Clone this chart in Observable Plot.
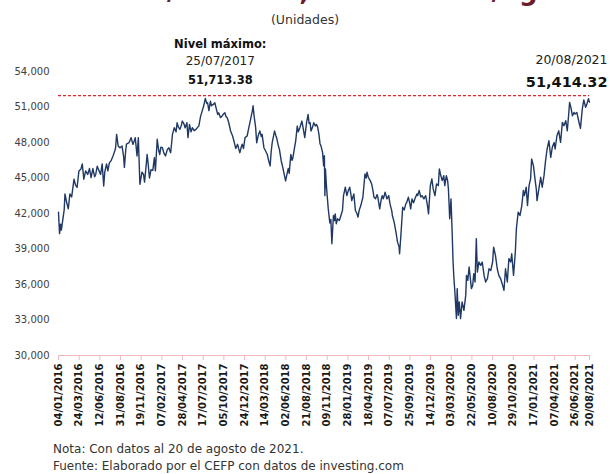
<!DOCTYPE html>
<html><head><meta charset="utf-8">
<script src="https://cdn.jsdelivr.net/npm/d3@7"></script>
<script src="https://cdn.jsdelivr.net/npm/@observablehq/plot@0.6"></script>
<style>
html,body{margin:0;padding:0;background:#fff;}
#wrap{position:relative;width:610px;height:474px;overflow:hidden;font-family:"DejaVu Sans",sans-serif;}
#title{position:absolute;left:0;top:-25px;width:610px;text-align:center;font-weight:bold;font-size:26px;line-height:32px;color:#6b1d2a;white-space:nowrap;}
#sub{position:absolute;left:0;top:12px;width:610px;text-align:center;font-size:12.5px;line-height:16px;color:#333;}
#chart{position:absolute;left:0;top:30px;}
#foot{position:absolute;left:53px;top:441px;font-size:12px;line-height:17px;color:#333;white-space:nowrap;}
</style></head>
<body>
<div id="wrap">
  <div id="title">Índice S&amp;P/BMV IPC, 2016 - 2021/agosto</div>
  <div id="sub">(Unidades)</div>
  <div id="chart"></div>
  <div id="foot">Nota: Con datos al 20 de agosto de 2021.<br>Fuente: Elaborado por el CEFP con datos de investing.com</div>
</div>
<script>
// Daily close of the index, by year
const dates2016 = ["2016-01-04","2016-01-08","2016-01-12","2016-01-15","2016-01-22","2016-01-26","2016-01-29","2016-02-05","2016-02-11","2016-02-17","2016-02-24","2016-03-04","2016-03-10","2016-03-16","2016-03-23","2016-03-31","2016-04-05","2016-04-11","2016-04-18","2016-04-26","2016-05-03","2016-05-09","2016-05-16","2016-05-23","2016-05-27","2016-06-02","2016-06-09","2016-06-15","2016-06-21","2016-06-27","2016-07-01","2016-07-08","2016-07-13","2016-07-19","2016-07-25","2016-08-02","2016-08-09","2016-08-12","2016-08-16","2016-08-22","2016-08-29","2016-09-06","2016-09-12","2016-09-15","2016-09-20","2016-09-23","2016-10-03","2016-10-11","2016-10-18","2016-10-24","2016-10-27","2016-11-03","2016-11-08","2016-11-14","2016-11-22","2016-11-28","2016-12-02","2016-12-08","2016-12-12","2016-12-16","2016-12-21","2016-12-27"];
const values2016 = [42100,40300,41100,40600,41700,42300,43650,42900,42400,43650,43400,44900,44400,44200,45600,45770,46190,44900,45600,45300,45800,45030,45800,45100,45300,46000,45600,45300,46190,44330,45500,46190,45600,46300,46440,46860,47300,47560,48690,47700,47560,47700,46800,45900,47300,47870,47980,48410,47840,48200,48410,46860,48410,44470,45500,45300,44650,46000,46990,46200,45000,45700];

const dates2017 = ["2017-01-03","2017-01-09","2017-01-13","2017-01-20","2017-01-26","2017-01-30","2017-02-03","2017-02-09","2017-02-15","2017-02-21","2017-02-28","2017-03-06","2017-03-13","2017-03-17","2017-03-20","2017-03-27","2017-04-03","2017-04-07","2017-04-12","2017-04-18","2017-04-24","2017-04-27","2017-05-03","2017-05-08","2017-05-15","2017-05-19","2017-05-25","2017-05-31","2017-06-05","2017-06-12","2017-06-19","2017-06-26","2017-06-30","2017-07-07","2017-07-13","2017-07-19","2017-07-25","2017-07-31","2017-08-03","2017-08-08","2017-08-14","2017-08-18","2017-08-25","2017-08-31","2017-09-05","2017-09-11","2017-09-15","2017-09-22","2017-09-28","2017-10-03","2017-10-09","2017-10-13","2017-10-18","2017-10-24","2017-10-31","2017-11-07","2017-11-13","2017-11-20","2017-11-27","2017-12-01","2017-12-06","2017-12-11","2017-12-15","2017-12-20","2017-12-26"];
const values2017 = [45650,46720,45600,48270,47300,46990,47600,47560,47100,46860,47400,47560,47130,48000,48690,49250,48900,49670,49300,49110,49500,49810,49600,49250,49670,48410,49530,48900,49250,49000,49110,49300,49390,50230,50650,51100,51713.38,51300,51360,50700,51500,51100,51220,51360,50900,50370,50510,50100,50230,50400,50510,50200,50090,49670,48970,48600,48130,47500,47850,47500,47140,47600,47850,47500,48410];

const dates2018 = ["2018-01-03","2018-01-09","2018-01-15","2018-01-23","2018-01-26","2018-01-30","2018-02-05","2018-02-09","2018-02-15","2018-02-21","2018-02-27","2018-03-02","2018-03-09","2018-03-15","2018-03-22","2018-03-27","2018-04-02","2018-04-06","2018-04-10","2018-04-19","2018-04-24","2018-04-27","2018-05-03","2018-05-08","2018-05-15","2018-05-21","2018-05-25","2018-06-01","2018-06-06","2018-06-11","2018-06-15","2018-06-21","2018-06-26","2018-06-29","2018-07-05","2018-07-10","2018-07-16","2018-07-20","2018-07-26","2018-08-03","2018-08-08","2018-08-14","2018-08-21","2018-08-27","2018-08-31","2018-09-04","2018-09-07","2018-09-13","2018-09-18","2018-09-24","2018-09-28","2018-10-03","2018-10-08","2018-10-12","2018-10-16","2018-10-22","2018-10-26","2018-10-29","2018-10-31","2018-11-02","2018-11-07","2018-11-13","2018-11-19","2018-11-23","2018-11-27","2018-12-03","2018-12-07","2018-12-10","2018-12-14","2018-12-19","2018-12-26"];
const values2018 = [48550,49200,49810,50650,51100,50230,49250,47980,48600,48970,48500,48690,47560,47300,46990,46500,46020,47200,47980,48970,48600,48410,47800,47420,46440,45900,45450,44750,45300,45800,45400,46990,46500,46700,47500,48130,49390,48900,49250,49810,49200,48410,49670,50370,49600,49670,48970,49300,49670,49400,49530,49300,48690,47900,47700,47170,46040,46880,43510,45770,44000,42390,41200,41500,39440,41830,41400,41970,41130,41550,41410];

const dates2019 = ["2019-01-07","2019-01-11","2019-01-18","2019-01-24","2019-01-29","2019-02-04","2019-02-08","2019-02-12","2019-02-20","2019-02-26","2019-03-04","2019-03-08","2019-03-13","2019-03-19","2019-03-27","2019-04-04","2019-04-09","2019-04-12","2019-04-17","2019-04-24","2019-04-30","2019-05-06","2019-05-09","2019-05-15","2019-05-21","2019-05-24","2019-05-31","2019-06-06","2019-06-10","2019-06-14","2019-06-21","2019-06-28","2019-07-05","2019-07-10","2019-07-17","2019-07-19","2019-07-26","2019-08-02","2019-08-08","2019-08-14","2019-08-16","2019-08-21","2019-08-28","2019-09-03","2019-09-09","2019-09-13","2019-09-19","2019-09-24","2019-09-28","2019-10-03","2019-10-09","2019-10-14","2019-10-22","2019-10-25","2019-10-31","2019-11-06","2019-11-11","2019-11-18","2019-11-25","2019-12-02","2019-12-06","2019-12-13","2019-12-19","2019-12-24","2019-12-31"];
const values2019 = [42250,43510,44220,43510,43900,44220,43700,43090,43650,42250,42000,41690,42300,42670,43370,45340,45000,45490,45060,44800,44500,43800,43370,43240,43600,43370,42390,43200,43510,43240,43800,43240,43510,42810,42200,41830,41270,40430,39580,39200,38600,40140,42530,42300,42810,42950,43370,42900,42390,43230,42900,43230,43650,43510,43940,43400,43510,43240,43510,42670,41970,44360,44920,44080,43510];

const dates2020 = ["2020-01-06","2020-01-13","2020-01-17","2020-01-21","2020-01-28","2020-02-03","2020-02-07","2020-02-13","2020-02-18","2020-02-21","2020-02-26","2020-03-02","2020-03-06","2020-03-10","2020-03-13","2020-03-17","2020-03-23","2020-03-26","2020-03-30","2020-04-03","2020-04-08","2020-04-14","2020-04-21","2020-04-28","2020-05-01","2020-05-06","2020-05-11","2020-05-14","2020-05-20","2020-05-25","2020-05-29","2020-06-03","2020-06-08","2020-06-12","2020-06-18","2020-06-25","2020-07-01","2020-07-08","2020-07-14","2020-07-21","2020-07-27","2020-08-03","2020-08-10","2020-08-14","2020-08-21","2020-08-28","2020-09-03","2020-09-10","2020-09-16","2020-09-23","2020-09-29","2020-10-06","2020-10-12","2020-10-19","2020-10-23","2020-10-30","2020-11-06","2020-11-10","2020-11-17","2020-11-24","2020-12-01","2020-12-07","2020-12-11","2020-12-18","2020-12-23","2020-12-29"];
const values2020 = [44500,44360,45770,45340,44780,45200,44360,45200,44780,44080,41550,43240,40710,37900,36630,35370,33120,35650,33400,34530,33120,34530,33820,35080,36770,36350,37480,36910,35650,35930,36910,36210,39860,37050,37900,37620,37900,36770,36210,36490,37330,37190,37900,39160,38460,37330,36770,36490,36070,35510,37330,36210,38180,37900,38600,36770,38740,40710,42110,41830,42670,43940,43510,44220,42670,44360];

const dates2021 = ["2021-01-04","2021-01-08","2021-01-15","2021-01-21","2021-01-26","2021-01-29","2021-02-05","2021-02-12","2021-02-18","2021-02-25","2021-03-03","2021-03-09","2021-03-16","2021-03-23","2021-03-29","2021-04-05","2021-04-09","2021-04-16","2021-04-23","2021-04-30","2021-05-07","2021-05-13","2021-05-20","2021-05-26","2021-05-31","2021-06-04","2021-06-09","2021-06-15","2021-06-21","2021-06-25","2021-07-02","2021-07-09","2021-07-16","2021-07-23","2021-07-29","2021-08-05","2021-08-10","2021-08-16","2021-08-18","2021-08-20"];
const values2021 = [44920,46610,46040,44920,44080,43090,44080,45060,44220,45200,46470,47450,48150,46740,47590,48010,47450,48570,48990,48010,49700,49420,49840,48990,50260,51390,50970,50260,50540,50400,50540,49840,49190,50820,51600,50970,51250,51700,51550,51414.32];

// Axis tick labels
const xTickLabels = ["04/01/2016","24/03/2016","12/06/2016","31/08/2016","19/11/2016","07/02/2017","28/04/2017","17/07/2017","05/10/2017","24/12/2017","14/03/2018","02/06/2018","21/08/2018","09/11/2018","28/01/2019","18/04/2019","07/07/2019","25/09/2019","14/12/2019","03/03/2020","22/05/2020","10/08/2020","29/10/2020","17/01/2021","07/04/2021","26/06/2021","20/08/2021"];
const yTicks = [30000,33000,36000,39000,42000,45000,48000,51000,54000];

const parseISO = d3.utcParse("%Y-%m-%d");
const parseDMY = d3.utcParse("%d/%m/%Y");
const fmtDMY = d3.utcFormat("%d/%m/%Y");
const fmtVal = d3.format(",.2f");

const allDates = [].concat(dates2016, dates2017, dates2018, dates2019, dates2020, dates2021);
const allValues = [].concat(values2016, values2017, values2018, values2019, values2020, values2021);
const series = allDates.map((d, i) => ({date: parseISO(d), value: allValues[i]}));

const maxRec = series.reduce((a, b) => (b.value > a.value ? b : a));
const lastRec = series[series.length - 1];
const tickDates = xTickLabels.map(parseDMY);

const pink = "#f1b9bf";

const chart = Plot.plot({
  width: 610,
  height: 403,
  marginLeft: 58,
  marginRight: 21,
  marginTop: 41,
  marginBottom: 78,
  style: {fontFamily: "DejaVu Sans", fontSize: "10px", background: "transparent", overflow: "visible"},
  x: {type: "utc", domain: [series[0].date, lastRec.date]},
  y: {domain: [30000, 54000]},
  marks: [
    Plot.ruleY([30000], {stroke: pink, strokeWidth: 1}),
    Plot.axisX({ticks: tickDates, tickSize: 5, tickFormat: () => "", color: pink, label: null}),
    Plot.axisX({ticks: tickDates, tickSize: 0, tickPadding: 8, tickFormat: fmtDMY, tickRotate: -90, color: "#1a1a1a", fontWeight: "bold", fontSize: 10, label: null}),
    Plot.axisY({ticks: yTicks, tickSize: 0, tickPadding: 9, tickFormat: d3.format(","), color: "#404040", fontSize: 10, label: null}),
    Plot.ruleY([maxRec.value], {stroke: "#e0282c", strokeWidth: 1.2, strokeDasharray: "3,2", dy: -3}),
    Plot.lineY(series, {x: "date", y: "value", stroke: "#1f3864", strokeWidth: 1.4}),
    Plot.text([maxRec], {x: "date", y: "value", text: () => "Nivel máximo:", dx: 15, dy: -54, fontWeight: "bold", fontSize: 11.5, fill: "#111"}),
    Plot.text([maxRec], {x: "date", y: "value", text: d => fmtDMY(d.date), dx: 15, dy: -37, fontSize: 12, fill: "#222"}),
    Plot.text([maxRec], {x: "date", y: "value", text: d => fmtVal(d.value), dx: 15, dy: -18, fontWeight: "bold", fontSize: 11.5, fill: "#111"}),
    Plot.text([lastRec], {x: "date", y: "value", text: d => fmtDMY(d.date), dx: 18, dy: -42, textAnchor: "end", fontSize: 12.5, fill: "#222"}),
    Plot.text([lastRec], {x: "date", y: "value", text: d => fmtVal(d.value), dx: 18, dy: -20, textAnchor: "end", fontWeight: "bold", fontSize: 14.5, fill: "#111"})
  ]
});
document.getElementById("chart").appendChild(chart);
</script>
</body></html>
